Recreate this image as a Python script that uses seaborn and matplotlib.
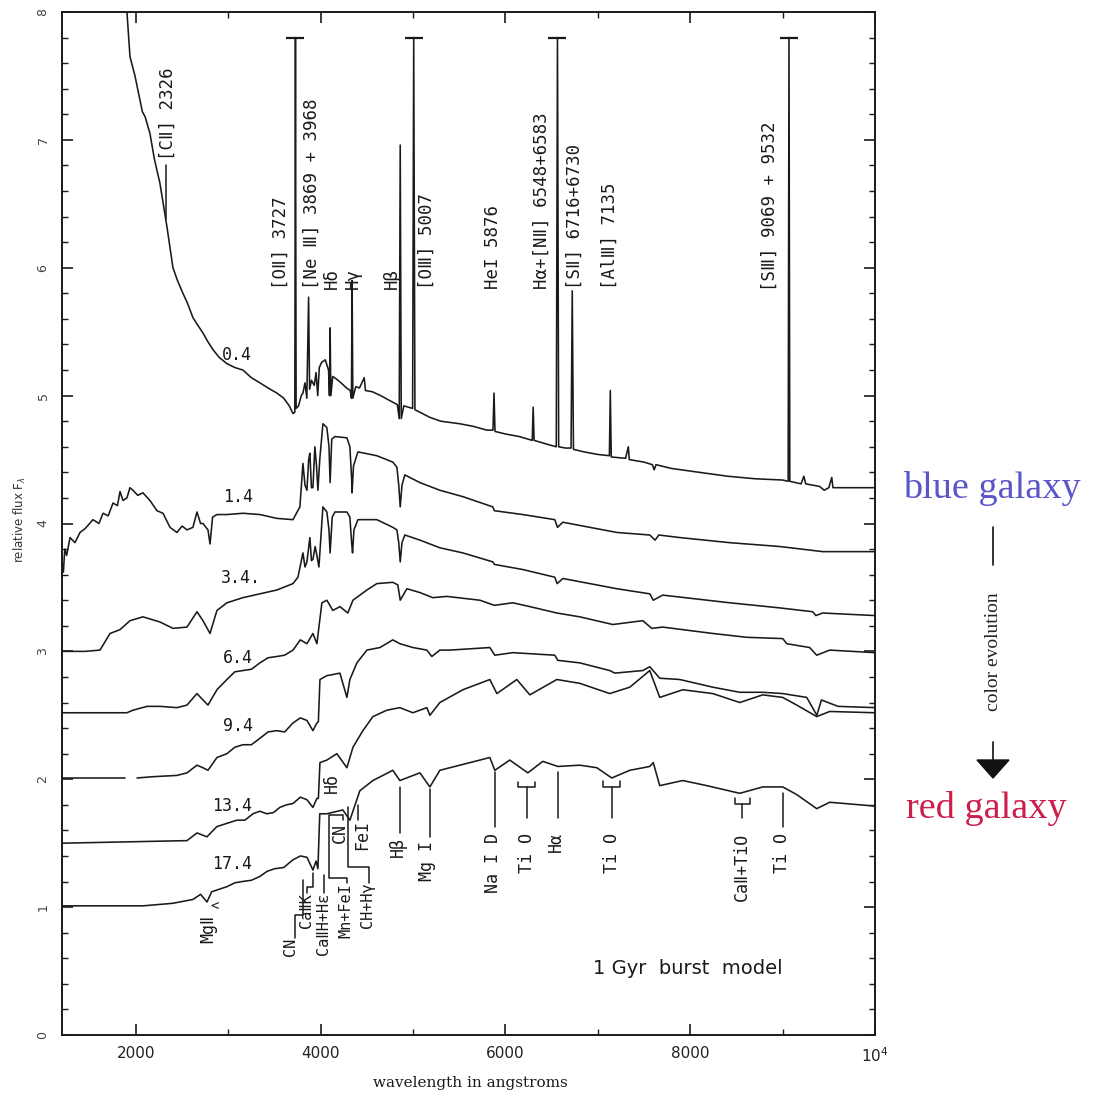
import numpy as np
import pandas as pd
import matplotlib
matplotlib.use("Agg")
import matplotlib.pyplot as plt
import seaborn as sns
from matplotlib.lines import Line2D
from matplotlib.patches import Polygon

# ---------------- data (wavelength in Angstrom, relative flux) ----------------
ages = ["0.4", "1.4", "3.4", "6.4", "9.4", "13.4", "17.4"]

spec_0_4 = [(1870, 8.6), (1903, 8.0), (1936, 7.65), (1990, 7.5), (2044, 7.31), (2070, 7.22),
            (2100, 7.18), (2152, 7.05), (2200, 6.85), (2260, 6.66), (2300, 6.48), (2326, 6.36),
            (2336, 6.32), (2401, 6.0), (2450, 5.9), (2509, 5.8), (2560, 5.72), (2617, 5.61),
            (2670, 5.55), (2726, 5.49), (2780, 5.42), (2834, 5.36), (2900, 5.3), (2985, 5.25),
            (3070, 5.22), (3158, 5.2), (3250, 5.14), (3342, 5.1), (3430, 5.06), (3526, 5.02),
            (3600, 4.98), (3660, 4.92), (3700, 4.86), (3720, 4.87), (3727, 7.8), (3734, 4.9),
            (3760, 4.92), (3790, 5.0), (3808, 5.02), (3830, 5.1), (3850, 4.98), (3869, 5.77),
            (3880, 5.05), (3900, 5.12), (3930, 5.08), (3950, 5.18), (3968, 5.0), (3985, 5.22),
            (4010, 5.26), (4050, 5.28), (4085, 5.2), (4095, 5.0), (4102, 5.53), (4110, 5.0),
            (4130, 5.15), (4170, 5.13), (4220, 5.1), (4280, 5.06), (4320, 5.04), (4333, 4.98),
            (4340, 5.9), (4348, 4.98), (4380, 5.07), (4420, 5.06), (4471, 5.14), (4485, 5.04),
            (4560, 5.03), (4650, 5.0), (4750, 4.96), (4830, 4.93), (4850, 4.82), (4861, 6.96),
            (4872, 4.82), (4900, 4.92), (4995, 4.9), (5007, 7.8), (5020, 4.89), (5100, 4.86),
            (5182, 4.83), (5300, 4.8), (5400, 4.79), (5506, 4.78), (5650, 4.76), (5800, 4.73),
            (5865, 4.73), (5876, 5.02), (5887, 4.72), (6000, 4.7), (6150, 4.68), (6290, 4.65),
            (6300, 4.91), (6310, 4.65), (6450, 4.62), (6550, 4.6), (6563, 7.8), (6576, 4.6),
            (6650, 4.59), (6710, 4.59), (6723, 5.82), (6736, 4.58), (6850, 4.56), (7000, 4.54),
            (7125, 4.53), (7135, 5.04), (7145, 4.52), (7300, 4.51), (7330, 4.6), (7340, 4.5),
            (7500, 4.48), (7590, 4.46), (7610, 4.42), (7630, 4.46), (7800, 4.43), (8100, 4.4),
            (8400, 4.37), (8700, 4.35), (9000, 4.34), (9060, 4.33), (9069, 7.8), (9078, 4.33),
            (9200, 4.31), (9230, 4.37), (9250, 4.31), (9400, 4.29), (9450, 4.26), (9500, 4.28),
            (9532, 4.36), (9545, 4.28), (9700, 4.28), (10000, 4.28)]

spec_1_4 = [(1200, 3.69), (1215, 3.62), (1230, 3.8), (1250, 3.75), (1287, 3.89), (1340, 3.85),
            (1395, 3.93), (1450, 3.96), (1535, 4.03), (1600, 4.0), (1644, 4.08), (1700, 4.06),
            (1752, 4.16), (1800, 4.14), (1828, 4.25), (1860, 4.18), (1903, 4.2), (1935, 4.28),
            (1968, 4.26), (2020, 4.22), (2076, 4.24), (2152, 4.18), (2228, 4.1), (2293, 4.08),
            (2369, 3.97), (2444, 3.93), (2500, 3.98), (2553, 3.95), (2617, 3.97), (2661, 4.09),
            (2700, 4.0), (2726, 4.0), (2780, 3.95), (2802, 3.84), (2830, 4.05), (2877, 4.07),
            (2985, 4.07), (3158, 4.08), (3342, 4.07), (3526, 4.04), (3700, 4.03), (3775, 4.13),
            (3808, 4.47), (3830, 4.3), (3851, 4.26), (3870, 4.5), (3883, 4.55), (3900, 4.28),
            (3916, 4.28), (3937, 4.6), (3955, 4.45), (3970, 4.26), (3990, 4.5), (4024, 4.78),
            (4067, 4.75), (4090, 4.6), (4102, 4.32), (4120, 4.66), (4154, 4.68), (4284, 4.67),
            (4316, 4.6), (4335, 4.35), (4340, 4.24), (4355, 4.45), (4403, 4.56), (4608, 4.53),
            (4781, 4.48), (4825, 4.44), (4845, 4.3), (4861, 4.13), (4880, 4.3), (4911, 4.38),
            (5074, 4.32), (5290, 4.26), (5539, 4.21), (5863, 4.13), (5880, 4.1), (6188, 4.07),
            (6534, 4.03), (6563, 3.97), (6621, 4.01), (7205, 3.93), (7562, 3.91), (7620, 3.87),
            (7660, 3.91), (7887, 3.89), (8428, 3.85), (8969, 3.82), (9434, 3.78), (10000, 3.78)]

spec_3_4 = [(1200, 3.0), (1450, 3.0), (1611, 3.01), (1720, 3.14), (1828, 3.17), (1936, 3.24),
            (2076, 3.27), (2260, 3.23), (2401, 3.18), (2553, 3.19), (2661, 3.31), (2726, 3.24),
            (2802, 3.14), (2877, 3.32), (2985, 3.38), (3158, 3.42), (3342, 3.45), (3526, 3.48),
            (3700, 3.53), (3754, 3.58), (3808, 3.77), (3830, 3.66), (3851, 3.7), (3883, 3.89),
            (3900, 3.71), (3916, 3.72), (3940, 3.82), (3959, 3.75), (3981, 3.66), (4024, 4.13),
            (4067, 4.09), (4090, 3.95), (4102, 3.77), (4125, 4.05), (4154, 4.09), (4284, 4.09),
            (4316, 4.05), (4335, 3.85), (4345, 3.77), (4360, 3.95), (4403, 4.03), (4608, 4.03),
            (4781, 3.97), (4825, 3.95), (4845, 3.85), (4861, 3.7), (4880, 3.85), (4911, 3.91),
            (5074, 3.87), (5290, 3.81), (5539, 3.77), (5863, 3.7), (5880, 3.68), (6188, 3.64),
            (6534, 3.58), (6560, 3.53), (6621, 3.57), (7205, 3.49), (7562, 3.45), (7600, 3.4),
            (7702, 3.44), (8428, 3.38), (8969, 3.34), (9326, 3.31), (9360, 3.28), (9434, 3.3),
            (10000, 3.28)]

spec_6_4 = [(1200, 2.52), (1903, 2.52), (1968, 2.54), (2120, 2.57), (2260, 2.57), (2444, 2.56),
            (2553, 2.58), (2661, 2.67), (2726, 2.62), (2780, 2.58), (2877, 2.7), (2985, 2.78),
            (3070, 2.84), (3158, 2.85), (3250, 2.86), (3342, 2.91), (3430, 2.95), (3526, 2.96),
            (3610, 2.97), (3700, 3.01), (3780, 3.09), (3851, 3.06), (3916, 3.14), (3959, 3.06),
            (4013, 3.38), (4067, 3.4), (4132, 3.32), (4208, 3.35), (4294, 3.3), (4349, 3.4),
            (4500, 3.48), (4608, 3.53), (4781, 3.54), (4835, 3.52), (4861, 3.4), (4933, 3.49),
            (5074, 3.46), (5214, 3.42), (5366, 3.43), (5723, 3.4), (5880, 3.36), (6080, 3.38),
            (6264, 3.35), (6556, 3.3), (6805, 3.27), (7162, 3.21), (7486, 3.24), (7584, 3.18),
            (7702, 3.19), (8244, 3.14), (8612, 3.11), (9001, 3.1), (9045, 3.06), (9293, 3.03),
            (9369, 2.97), (9510, 3.01), (10000, 2.99)]

spec_9_4 = [(1200, 2.01), (1882, 2.01), (None, None), (2012, 2.01), (2185, 2.02), (2444, 2.03),
            (2553, 2.05), (2661, 2.11), (2726, 2.09), (2780, 2.07), (2877, 2.17), (2985, 2.2),
            (3070, 2.25), (3158, 2.27), (3250, 2.27), (3342, 2.32), (3430, 2.37), (3526, 2.38),
            (3610, 2.37), (3700, 2.44), (3780, 2.48), (3851, 2.46), (3916, 2.38), (3959, 2.44),
            (3975, 2.45), (3992, 2.78), (4067, 2.81), (4208, 2.83), (4284, 2.64), (4316, 2.78),
            (4392, 2.91), (4500, 3.01), (4641, 3.03), (4781, 3.09), (4857, 3.06), (4998, 3.03),
            (5149, 3.01), (5203, 2.96), (5290, 3.01), (5398, 3.01), (5831, 3.03), (5885, 2.97),
            (6080, 2.99), (6534, 2.97), (6567, 2.93), (6805, 2.91), (7129, 2.85), (7183, 2.83),
            (7486, 2.85), (7562, 2.88), (7670, 2.79), (7887, 2.78), (8244, 2.72), (8536, 2.68),
            (8785, 2.68), (9001, 2.67), (9261, 2.64), (9370, 2.5), (9420, 2.62), (9600, 2.57),
            (10000, 2.56)]

spec_13_4 = [(1200, 1.5), (2553, 1.52), (2661, 1.58), (2769, 1.55), (2877, 1.63), (3093, 1.68),
             (3180, 1.68), (3267, 1.73), (3340, 1.75), (3418, 1.73), (3490, 1.74), (3559, 1.78),
             (3630, 1.8), (3700, 1.81), (3780, 1.86), (3851, 1.84), (3916, 1.78), (3959, 1.85),
             (3975, 1.85), (3992, 2.13), (4067, 2.15), (4175, 2.2), (4284, 2.09), (4349, 2.25),
             (4457, 2.38), (4565, 2.49), (4717, 2.54), (4857, 2.56), (4998, 2.52), (5149, 2.56),
             (5182, 2.5), (5290, 2.6), (5539, 2.7), (5831, 2.78), (5907, 2.67), (6123, 2.78),
             (6264, 2.66), (6556, 2.78), (6805, 2.75), (7129, 2.67), (7346, 2.72), (7562, 2.85),
             (7670, 2.64), (7919, 2.7), (8244, 2.67), (8536, 2.6), (8785, 2.66), (9001, 2.64),
             (9153, 2.58), (9369, 2.49), (9510, 2.53), (10000, 2.52)]

spec_17_4 = [(1200, 1.01), (2076, 1.01), (2400, 1.03), (2617, 1.06), (2700, 1.1), (2769, 1.04),
             (2820, 1.12), (2985, 1.16), (3070, 1.19), (3150, 1.2), (3250, 1.21), (3342, 1.24),
             (3420, 1.28), (3500, 1.3), (3600, 1.31), (3700, 1.37), (3780, 1.4), (3851, 1.39),
             (3916, 1.29), (3950, 1.36), (3970, 1.3), (3990, 1.73), (4067, 1.73), (4240, 1.76),
             (4316, 1.68), (4424, 1.91), (4565, 1.99), (4781, 2.07), (4857, 1.99), (5074, 2.05),
             (5182, 1.94), (5290, 2.07), (5831, 2.17), (5885, 2.07), (6047, 2.15), (6242, 2.05),
             (6404, 2.14), (6567, 2.1), (6805, 2.11), (6989, 2.09), (7151, 2.01), (7346, 2.07),
             (7562, 2.1), (7600, 2.13), (7670, 1.95), (7919, 1.99), (8179, 1.95), (8536, 1.89),
             (8785, 1.94), (9001, 1.94), (9153, 1.88), (9369, 1.77), (9510, 1.82), (10000, 1.79)]

spectra = [spec_0_4, spec_1_4, spec_3_4, spec_6_4, spec_9_4, spec_13_4, spec_17_4]

saturated_lines = [3727, 5007, 6563, 9069]
saturation_level = 7.8

# ---------------- styling ----------------
sns.set_style("ticks")
plt.rcParams["font.family"] = ["DejaVu Sans", "DejaVu Sans Mono"]
MONO = ["DejaVu Sans Mono", "DejaVu Sans"]
INK = "#1a1a1a"

fig = plt.figure(figsize=(10.98, 11.02), dpi=100)
ax = fig.add_axes([62 / 1098, 1 - 1035 / 1102, 813 / 1098, 1023 / 1102])

rows = []
for age, spec in zip(ages, spectra):
    seg = 0
    for w, f in spec:
        if w is None:
            seg += 1
            continue
        rows.append({"age": age, "seg": f"{age}-{seg}", "wl": w, "flux": f})
df = pd.DataFrame(rows)

sns.lineplot(data=df, x="wl", y="flux", units="seg", estimator=None, sort=False,
             color=INK, lw=1.15, ax=ax, legend=False)

ax.plot(saturated_lines, [saturation_level] * len(saturated_lines), ls="none",
        marker="_", ms=13, mew=1.6, color=INK)

ax.set_xlim(1200, 10000)
ax.set_ylim(0, 8)
ax.set_xlabel("")
ax.set_ylabel("")
ax.set_xticks([2000, 4000, 6000, 8000, 10000])
ax.set_xticklabels(["2000", "4000", "6000", "8000", "$10^4$"])
ax.set_xticks([3000, 5000, 7000, 9000], minor=True)
ax.set_yticks(range(0, 9))
ax.set_yticks(np.arange(0, 8.01, 0.2), minor=True)
ax.tick_params(which="both", direction="in", top=True, right=True, color=INK)
ax.tick_params(which="major", length=8, width=1.2)
ax.tick_params(which="minor", length=4, width=1.0)
ax.tick_params(axis="x", labelsize=11, pad=8, labelcolor="#222222")
ax.tick_params(axis="y", labelsize=9, pad=9, labelrotation=90, labelcolor="#444444")
for lab in ax.get_yticklabels():
    lab.set_va("center")
for sp in ax.spines.values():
    sp.set_linewidth(1.4)
    sp.set_color(INK)

# ---------------- age labels ----------------
age_pos = {"0.4": (3094, 5.32), "1.4": (3104, 4.21), "3.4": (3137, 3.57), "6.4": (3104, 2.95),
           "9.4": (3104, 2.42), "13.4": (3039, 1.79), "17.4": (3039, 1.34)}
for a, (x, y) in age_pos.items():
    txt = a + "." if a == "3.4" else a
    ax.text(x, y, txt, ha="center", va="center", fontsize=12, family=MONO, color=INK)

# ---------------- emission line labels ----------------
em_labels = [("[CⅡ] 2326", 2347, 6.84), ("[OⅡ] 3727", 3570, 5.83),
             ("[Ne Ⅲ] 3869 + 3968", 3905, 5.83), ("Hδ", 4121, 5.83), ("Hγ", 4349, 5.83),
             ("Hβ", 4771, 5.83), ("[OⅢ] 5007", 5149, 5.83), ("HeI 5876", 5863, 5.83),
             ("Hα+[NⅡ] 6548+6583", 6394, 5.83), ("[SⅡ] 6716+6730", 6751, 5.83),
             ("[AlⅢ] 7135", 7129, 5.83), ("[SⅢ] 9069 + 9532", 8861, 5.82)]
for t, x, y in em_labels:
    ax.text(x, y, t, rotation=90, ha="center", va="bottom", fontsize=12.5, family=MONO, color=INK)
ax.plot([2326, 2326], [6.80, 6.38], color=INK, lw=1.1)

# ---------------- absorption feature labels ----------------
low_labels = [("Hδ", 4121, 2.05, 12), ("CN", 4208, 1.66, 12), ("FeI", 4446, 1.68, 12),
              ("Hβ", 4836, 1.55, 12), ("Mg I", 5149, 1.52, 12), ("Na I D", 5863, 1.58, 12),
              ("Ti O", 6231, 1.58, 12), ("Hα", 6545, 1.59, 12), ("Ti O", 7151, 1.58, 12),
              ("CaⅡ+TiO", 8558, 1.58, 12), ("Ti O", 8990, 1.58, 12), ("MgⅡ", 2780, 0.94, 12),
              ("CN", 3670, 0.76, 11), ("CaⅡK", 3850, 1.11, 11), ("CaⅡH+Hε", 4035, 1.11, 11),
              ("Mn+FeI", 4275, 1.19, 11), ("CH+Hγ", 4511, 1.19, 11)]
for t, x, y, fs in low_labels:
    ax.text(x, y, t, rotation=90, ha="center", va="top", fontsize=fs, family=MONO, color=INK)
ax.text(2855, 1.01, "<", ha="center", va="center", fontsize=10, family=MONO, color=INK)

leaders = [
    [(3721, 0.76), (3721, 0.94), (3808, 0.94), (3808, 1.21)],
    [(3850, 1.11), (3850, 1.16), (3916, 1.16), (3916, 1.27)],
    [(4035, 1.11), (4035, 1.25)],
    [(4284, 1.19), (4284, 1.23), (4089, 1.23), (4089, 1.72), (4240, 1.72), (4240, 1.68)],
    [(4522, 1.19), (4522, 1.31), (4295, 1.31), (4295, 1.78)],
    [(4400, 1.68), (4400, 1.80)],
    [(4857, 1.58), (4857, 1.94)],
    [(5182, 1.55), (5182, 1.92)],
    [(5885, 1.63), (5885, 2.06)],
    [(6231, 1.70), (6231, 1.94)],
    [(6134, 1.98), (6134, 1.94), (6318, 1.94), (6318, 1.98)],
    [(6567, 1.70), (6567, 2.06)],
    [(7151, 1.70), (7151, 1.94)],
    [(7054, 1.99), (7054, 1.94), (7238, 1.94), (7238, 1.99)],
    [(8558, 1.70), (8558, 1.81)],
    [(8482, 1.85), (8482, 1.81), (8644, 1.81), (8644, 1.85)],
    [(9001, 1.63), (9001, 1.89)],
]
for seg in leaders:
    xs, ys = zip(*seg)
    ax.plot(xs, ys, color=INK, lw=1.1)

ax.text(7973, 0.52, "1 Gyr  burst  model", ha="center", va="center", fontsize=14, color=INK)

# ---------------- axis titles ----------------
fig.text(20 / 1098, 1 - 520 / 1102, r"relative flux F$_\lambda$", rotation=90, ha="center",
         va="center", fontsize=8.5, color="#333333")
fig.text(470 / 1098, 1 - 1083 / 1102, "wavelength in angstroms", ha="center", va="center",
         fontsize=11, family="DejaVu Serif", color=INK)

# ---------------- right-hand annotation ----------------
SERIF = ["Liberation Serif", "DejaVu Serif"]
fig.text(992 / 1098, 1 - 488 / 1102, "blue galaxy", ha="center", va="center", fontsize=27.5,
         family=SERIF, color="#5a55c8")
fig.text(986 / 1098, 1 - 808 / 1102, "red galaxy", ha="center", va="center", fontsize=27.5,
         family=SERIF, color="#cc1e4a")
fig.text(993 / 1098, 1 - 652 / 1102, "color evolution", rotation=90, ha="center", va="center",
         fontsize=14, family=SERIF, color="#222222")
fig.add_artist(Line2D([993 / 1098, 993 / 1098], [1 - 527 / 1102, 1 - 565 / 1102],
                      transform=fig.transFigure, color="#111111", lw=1.2))
fig.add_artist(Line2D([993 / 1098, 993 / 1098], [1 - 742 / 1102, 1 - 762 / 1102],
                      transform=fig.transFigure, color="#111111", lw=1.2))
fig.add_artist(Polygon([(977 / 1098, 1 - 760 / 1102), (1009 / 1098, 1 - 760 / 1102),
                        (993 / 1098, 1 - 778 / 1102)], closed=True, transform=fig.transFigure,
                       color="#111111"))

fig.savefig("out.png", dpi=100)
